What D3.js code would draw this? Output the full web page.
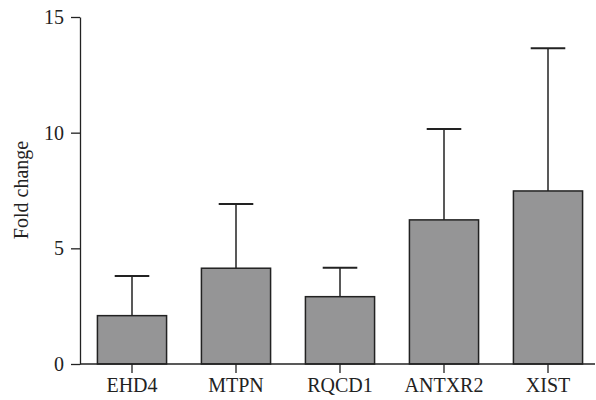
<!DOCTYPE html>
<html>
<head>
<meta charset="utf-8">
<script src="https://cdn.jsdelivr.net/npm/d3@7"></script>
<style>
  body { margin: 0; background: #fff; }
  svg { display: block; }
  text { font-family: "Liberation Serif", "DejaVu Serif", serif; fill: #222; }
</style>
</head>
<body>
<svg id="chart" width="596" height="400"></svg>
<script>
const categories = ["EHD4", "MTPN", "RQCD1", "ANTXR2", "XIST"];
const means = [2.09, 4.14, 2.91, 6.23, 7.48];
const upperErrors = [3.80, 6.92, 4.16, 10.16, 13.65];
const yTicks = [0, 5, 10, 15];
const yLabel = "Fold change";

const svg = d3.select("#chart");
const mLeft = 80, mRight = 600, mTop = 17, mBottom = 364;

const x = d3.scaleBand().domain(categories).range([mLeft, mRight])
  .paddingInner(0.335).paddingOuter(0.1675);
const y = d3.scaleLinear().domain([0, 15]).range([mBottom, mTop]);

const ink = "#222";

// bars
svg.append("g").selectAll("rect").data(categories).join("rect")
  .attr("x", d => x(d))
  .attr("y", (d, i) => y(means[i]))
  .attr("width", x.bandwidth())
  .attr("height", (d, i) => y(0) - y(means[i]))
  .attr("fill", "#959596")
  .attr("stroke", ink)
  .attr("stroke-width", 1.5);

// error bars
const eb = svg.append("g").attr("stroke", ink).attr("stroke-width", 1.5);
eb.selectAll("line.v").data(categories).join("line").attr("class", "v")
  .attr("x1", d => x(d) + x.bandwidth() / 2)
  .attr("x2", d => x(d) + x.bandwidth() / 2)
  .attr("y1", (d, i) => y(means[i]))
  .attr("y2", (d, i) => y(upperErrors[i]));
eb.selectAll("line.c").data(categories).join("line").attr("class", "c")
  .attr("x1", d => x(d) + x.bandwidth() / 4)
  .attr("x2", d => x(d) + x.bandwidth() * 3 / 4)
  .attr("y1", (d, i) => y(upperErrors[i]))
  .attr("y2", (d, i) => y(upperErrors[i]))
  .attr("stroke-width", 2);

// x axis
const gx = svg.append("g").attr("transform", `translate(0,${mBottom})`)
  .call(d3.axisBottom(x).tickSize(9).tickSizeOuter(0).tickPadding(5));
gx.select(".domain").attr("d", `M${mLeft},0H595`);
// y axis
const gy = svg.append("g").attr("transform", `translate(${mLeft},0)`)
  .call(d3.axisLeft(y).tickValues(yTicks).tickSize(9).tickSizeOuter(0).tickPadding(7));

[gx, gy].forEach(g => {
  g.selectAll("path, line").attr("stroke", ink).attr("stroke-width", 1.3);
  g.selectAll("text").attr("font-size", 20).attr("fill", ink)
    .attr("font-family", "\"Liberation Serif\", serif");
});

svg.append("text")
  .attr("transform", `translate(28,190) rotate(-90)`)
  .attr("text-anchor", "middle")
  .attr("font-size", 20)
  .text(yLabel);
</script>
</body>
</html>
